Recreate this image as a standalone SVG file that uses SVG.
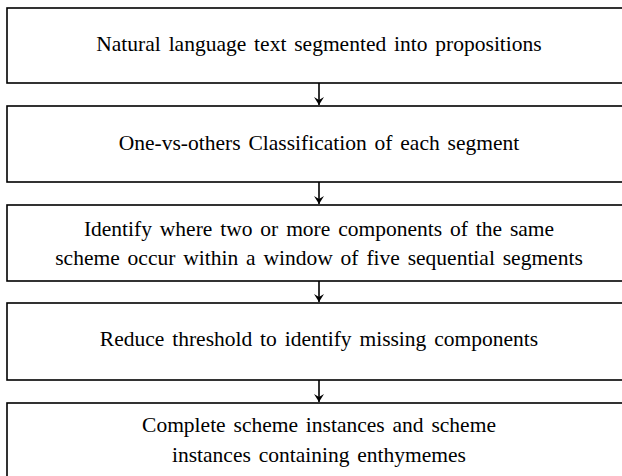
<svg xmlns="http://www.w3.org/2000/svg" width="622" height="476" viewBox="0 0 622 476">
<defs>
<marker id="ah" markerWidth="10" markerHeight="10" refX="9" refY="5" orient="auto" markerUnits="userSpaceOnUse" viewBox="0 0 10 10">
<path d="M1,0 L9,5 L1,10 L4,5 Z" fill="#000"/>
</marker>
</defs>
<style>
.box{fill:#fff;stroke:#000;stroke-width:1.6}
.t{font-family:"Liberation Serif","Times New Roman",serif;font-size:21.5px;fill:#000;text-anchor:middle;word-spacing:2.5px}
.c{stroke:#000;stroke-width:1.6;fill:none}
</style>
<rect width="622" height="476" fill="#fff"/>
<g id="n1"><rect class="box" x="7" y="8" width="630" height="75"/><text class="t" x="319" y="51">Natural language text segmented into propositions</text></g>
<g id="n2"><rect class="box" x="7" y="106" width="630" height="76"/><text class="t" x="319" y="150">One-vs-others Classification of each segment</text></g>
<g id="n3"><rect class="box" x="7" y="205" width="630" height="76"/><text class="t" x="319" y="236">Identify where two or more components of the same</text><text class="t" x="319" y="265">scheme occur within a window of five sequential segments</text></g>
<g id="n4"><rect class="box" x="7" y="303" width="630" height="77"/><text class="t" x="319" y="346">Reduce threshold to identify missing components</text></g>
<g id="n5"><rect class="box" x="7" y="403" width="630" height="80"/><text class="t" x="319" y="432">Complete scheme instances and scheme</text><text class="t" x="319" y="462">instances containing enthymemes</text></g>
<g id="connectors">
<line class="c" x1="319" y1="83" x2="319" y2="105" marker-end="url(#ah)"/>
<line class="c" x1="319" y1="182" x2="319" y2="204" marker-end="url(#ah)"/>
<line class="c" x1="319" y1="281" x2="319" y2="302" marker-end="url(#ah)"/>
<line class="c" x1="319" y1="380" x2="319" y2="402" marker-end="url(#ah)"/>
</g>
</svg>
